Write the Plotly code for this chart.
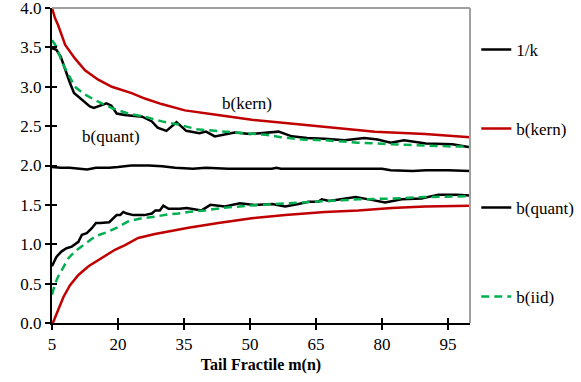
import plotly.graph_objects as go

# ---- data -------------------------------------------------------------
x_ticks = [5, 20, 35, 50, 65, 80, 95]

inv_k_x = [5, 7, 9, 11, 13, 15, 18, 20, 23, 27, 30, 33, 37, 40, 45, 50, 55, 56, 57,
           60, 65, 70, 75, 80, 82, 87, 90, 95, 100]
inv_k_y = [1.98, 1.97, 1.97, 1.96, 1.95, 1.97, 1.97, 1.98, 2.00, 2.00, 1.99, 1.97, 1.96,
           1.97, 1.96, 1.96, 1.96, 1.97, 1.96, 1.96, 1.96, 1.96, 1.96, 1.96, 1.94, 1.93,
           1.94, 1.94, 1.93]

kern_hi_x = [5, 5.7, 6.4, 8, 10.2, 12.5, 15.5, 18.6, 23.1, 26.1, 29.9, 35.2, 42.7, 50.4,
             58, 67, 78.4, 89.8, 100]
kern_hi_y = [4.0, 3.87, 3.78, 3.53, 3.36, 3.21, 3.09, 3.0, 2.92, 2.85, 2.78, 2.70, 2.64,
             2.58, 2.54, 2.49, 2.43, 2.40, 2.36]

kern_lo_x = [5.2, 6.4, 7.6, 9.1, 11, 13.3, 16.3, 19.3, 21.6, 24.6, 28.4, 32.2, 36, 42.8,
             50.4, 58, 67, 74.6, 82.2, 89.8, 100]
kern_lo_y = [0.0, 0.17, 0.33, 0.48, 0.61, 0.72, 0.82, 0.93, 0.99, 1.08, 1.13, 1.17, 1.21,
             1.27, 1.33, 1.37, 1.41, 1.43, 1.46, 1.48, 1.49]

quant_hi_x = [5, 6, 7, 8, 9, 10, 11.4, 13.6, 14.5, 15.5, 17.4, 18.5, 19.7, 21.5, 25.5,
              27.7, 29, 31, 33.3, 34.5, 35.5, 38.5, 40, 42, 44, 46.5, 50, 53.5, 56.5,
              59.5, 63, 67, 71.5, 76, 79, 82, 85, 90, 96, 100]
quant_hi_y = [3.49, 3.47, 3.38, 3.21, 3.06, 2.92, 2.85, 2.75, 2.73, 2.75, 2.79, 2.76, 2.66,
              2.64, 2.62, 2.56, 2.48, 2.44, 2.55, 2.49, 2.44, 2.41, 2.43, 2.37, 2.39, 2.42,
              2.40, 2.42, 2.43, 2.37, 2.35, 2.34, 2.32, 2.35, 2.33, 2.29, 2.32, 2.28, 2.27,
              2.23]

quant_lo_x = [5, 6, 7.2, 8.3, 9.5, 11, 11.8, 12.9, 14, 15, 16, 18, 19.7, 20.5, 21.2, 22,
              23.5, 26, 27.7, 28.5, 29.5, 30.3, 31.5, 34, 35.6, 37.5, 39, 41, 44.3, 47.7,
              51, 55, 58, 61, 63.3, 65.5, 66.3, 68, 74, 77, 80.7, 84.5, 89, 92.8, 97, 100]
quant_lo_y = [0.72, 0.84, 0.91, 0.95, 0.97, 1.03, 1.12, 1.14, 1.20, 1.27, 1.27, 1.28, 1.37,
              1.37, 1.41, 1.39, 1.37, 1.37, 1.39, 1.43, 1.43, 1.49, 1.45, 1.45, 1.46, 1.44,
              1.43, 1.50, 1.48, 1.52, 1.50, 1.51, 1.48, 1.51, 1.54, 1.54, 1.57, 1.55, 1.60,
              1.57, 1.53, 1.57, 1.58, 1.63, 1.63, 1.62]

iid_hi_x = [5, 6, 7.2, 8.7, 10.2, 12.5, 15.5, 18.6, 22.3, 26, 30, 33.7, 36, 38, 42, 49,
            53.5, 57, 62, 67, 74.5, 82, 90, 97, 100]
iid_hi_y = [3.59, 3.51, 3.32, 3.15, 3.0, 2.90, 2.81, 2.73, 2.66, 2.62, 2.56, 2.52, 2.49,
            2.46, 2.44, 2.41, 2.39, 2.36, 2.33, 2.32, 2.29, 2.27, 2.25, 2.24, 2.24]

iid_lo_x = [5, 5.7, 6.4, 7.6, 8.7, 10.2, 12.5, 14.8, 17.8, 20.1, 22.3, 25.4, 28.4, 31.4,
            33.7, 36, 39.8, 43.6, 49.6, 54.2, 58, 61.7, 67, 74.6, 82.2, 89.8, 100]
iid_lo_y = [0.36, 0.50, 0.59, 0.72, 0.82, 0.91, 1.01, 1.10, 1.16, 1.22, 1.29, 1.33, 1.35,
            1.38, 1.39, 1.41, 1.43, 1.46, 1.49, 1.51, 1.52, 1.53, 1.55, 1.57, 1.58, 1.60,
            1.61]

# ---- styling ----------------------------------------------------------
FONT = "Liberation Serif, Times New Roman, serif"
RED = "#C00000"
GREEN = "#00B050"
BLACK = "#000000"
FRAME = "#A0A0A0"
LW = 2.5

fig = go.Figure()


def add_line(x, y, color, name, legend, show, dash="solid"):
    fig.add_trace(go.Scatter(
        x=x, y=y, mode="lines", name=name, legend=legend, showlegend=show,
        line=dict(color=color, width=LW, dash=dash),
        hoverinfo="skip",
    ))


add_line(inv_k_x, inv_k_y, BLACK, "1/k", "legend", True)
add_line(kern_hi_x, kern_hi_y, RED, "b(kern)", "legend2", True)
add_line(kern_lo_x, kern_lo_y, RED, "b(kern)", "legend2", False)
add_line(quant_hi_x, quant_hi_y, BLACK, "b(quant)", "legend3", True)
add_line(quant_lo_x, quant_lo_y, BLACK, "b(quant)", "legend3", False)
add_line(iid_hi_x, iid_hi_y, GREEN, "b(iid)", "legend4", True, dash="8px,5px")
add_line(iid_lo_x, iid_lo_y, GREEN, "b(iid)", "legend4", False, dash="8px,5px")

# in-plot labels
fig.add_annotation(x=49.3, y=2.79, text="b(kern)", showarrow=False,
                   font=dict(family=FONT, size=17, color=BLACK))
fig.add_annotation(x=18.4, y=2.37, text="b(quant)", showarrow=False,
                   font=dict(family=FONT, size=17, color=BLACK))

# grey frame lines along the top and right of the plot area
fig.add_shape(type="line", xref="paper", yref="paper", x0=0, x1=1, y0=1, y1=1,
              line=dict(color=FRAME, width=2), layer="above")
fig.add_shape(type="line", xref="paper", yref="paper", x0=1, x1=1, y0=0, y1=1,
              line=dict(color=FRAME, width=2), layer="above")

tick_font = dict(family=FONT, size=17, color=BLACK)
common_x = dict(range=[5, 100], tickvals=x_ticks, showgrid=False, zeroline=False,
                ticklen=5, tickwidth=2, tickcolor=BLACK)
common_y = dict(range=[0, 4], dtick=0.5, tick0=0, showgrid=False, zeroline=False,
                ticklen=5, tickwidth=2, tickcolor=BLACK)

legend_base = dict(font=dict(family=FONT, size=17, color=BLACK), bgcolor="rgba(0,0,0,0)",
                   xanchor="left", yanchor="middle", x=1.015, borderwidth=0)

fig.update_layout(
    width=581, height=382,
    margin=dict(l=52, r=111, t=8, b=59, autoexpand=False),
    plot_bgcolor="white", paper_bgcolor="white",
    font=dict(family=FONT, color=BLACK),
    xaxis=dict(**common_x, ticks="outside", showline=True, linecolor=BLACK, linewidth=2,
               tickfont=tick_font,
               title=dict(text="<b>Tail Fractile m(n)</b>",
                          font=dict(family=FONT, size=16, color=BLACK), standoff=5)),
    yaxis=dict(**common_y, ticks="outside", showline=True, linecolor=BLACK, linewidth=2,
               tickfont=tick_font, tickformat=".1f", ticklabeloverflow="allow"),
    # mirrored tick marks on the inner side so each tick crosses the axis line
    xaxis2=dict(**common_x, ticks="inside", overlaying="x", anchor="y", side="bottom",
                showticklabels=False, showline=False),
    yaxis2=dict(**common_y, ticks="inside", overlaying="y", anchor="x", side="left",
                showticklabels=False, showline=False),
    legend=dict(**legend_base, y=0.867),
    legend2=dict(**legend_base, y=0.616),
    legend3=dict(**legend_base, y=0.365),
    legend4=dict(**legend_base, y=0.083),
)

# an empty trace that puts the inner-tick axes on the figure
fig.add_trace(go.Scatter(x=[None], y=[None], xaxis="x2", yaxis="y2", showlegend=False,
                         hoverinfo="skip"))

fig.write_html("out.html")
